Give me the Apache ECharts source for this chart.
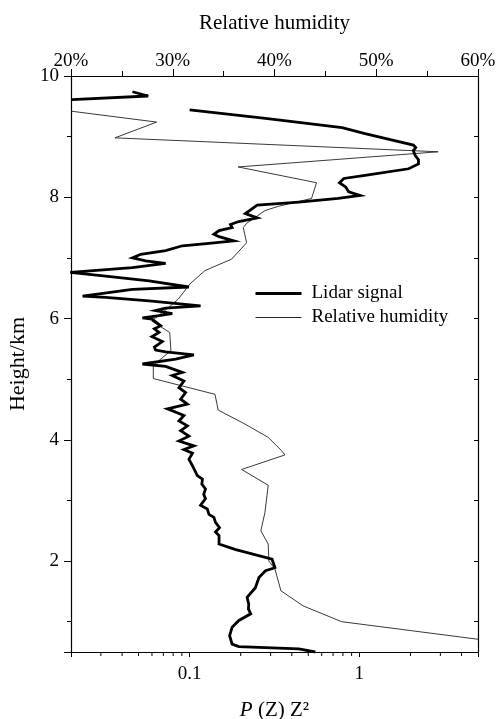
<!DOCTYPE html>
<html>
<head>
<meta charset="utf-8">
<script src="https://cdn.jsdelivr.net/npm/echarts@6/dist/echarts.min.js"></script>
<style>html,body{margin:0;padding:0;background:#fff}#c{width:503px;height:719px}</style>
</head>
<body>
<div id="c"></div>
<script>
// ---- Data ----
const lidarHeight = [9.74, 9.67, 9.61, 9.52, 9.44, 9.30, 9.15, 9.05, 8.86, 8.82, 8.77, 8.69, 8.62, 8.55, 8.47, 8.36, 8.31, 8.24, 8.17, 8.09, 8.03, 7.98, 7.92, 7.87, 7.73, 7.66, 7.60, 7.55, 7.50, 7.45, 7.39, 7.35, 7.28, 7.24, 7.20, 7.12, 7.06, 7.00, 6.95, 6.91, 6.84, 6.76, 6.70, 6.62, 6.52, 6.48, 6.37, 6.35, 6.29, 6.21, 6.17, 6.13, 6.08, 6.04, 6.01, 5.99, 5.88, 5.83, 5.77, 5.70, 5.62, 5.53, 5.48, 5.45, 5.40, 5.33, 5.25, 5.21, 5.11, 5.06, 4.97, 4.86, 4.78, 4.67, 4.59, 4.51, 4.40, 4.31, 4.23, 4.15, 4.06, 3.98, 3.90, 3.84, 3.78, 3.68, 3.57, 3.41, 3.35, 3.27, 3.19, 3.10, 3.03, 2.92, 2.86, 2.77, 2.72, 2.64, 2.55, 2.48, 2.42, 2.28, 2.19, 2.03, 1.89, 1.84, 1.73, 1.56, 1.40, 1.29, 1.21, 1.13, 1.02, 0.91, 0.77, 0.63, 0.59, 0.55, 0.50];
const lidarSignal = [0.046, 0.057, 0.0202, null, 0.100, 0.280, 0.791, 1.08, 2.08, 2.15, 2.08, 2.13, 2.23, 2.23, 1.95, 1.08, 0.81, 0.763, 0.83, 0.865, 1.01, 0.75, 0.44, 0.25, 0.213, 0.25, 0.195, 0.174, 0.178, 0.149, 0.139, 0.149, 0.182, 0.130, 0.0906, 0.0722, 0.0515, 0.046, 0.0551, 0.0722, 0.046, 0.0198, 0.032, 0.0577, 0.099, 0.046, 0.0234, 0.032, 0.0577, 0.116, 0.0722, 0.063, 0.079, 0.063, 0.0527, 0.060, 0.0675, 0.062, 0.066, 0.060, 0.069, 0.062, 0.063, 0.0722, 0.106, 0.0827, 0.0527, 0.0722, 0.0906, 0.079, 0.0926, 0.0865, 0.0947, 0.0885, 0.097, 0.074, 0.0926, 0.0865, 0.097, 0.0885, 0.099, 0.0865, 0.106, 0.0926, 0.104, 0.099, 0.104, 0.111, 0.119, 0.118, 0.124, 0.121, 0.124, 0.116, 0.127, 0.130, 0.139, 0.142, 0.150, 0.142, 0.149, 0.149, 0.187, 0.306, 0.318, 0.280, 0.256, 0.244, 0.218, 0.223, 0.222, 0.229, 0.195, 0.178, 0.172, 0.178, 0.195, 0.44, 0.55];
const rhHeight = [9.42, 9.24, 8.98, 8.75, 8.50, 8.24, 7.98, 7.85, 7.78, 7.57, 7.50, 7.25, 6.98, 6.79, 6.57, 6.32, 6.13, 5.96, 5.77, 5.47, 5.23, 5.01, 4.75, 4.49, 4.26, 4.04, 3.82, 3.75, 3.51, 3.25, 2.80, 2.50, 2.28, 2.00, 1.87, 1.51, 1.26, 1.00, 0.71];
const rhPercent = [20.0, 28.42, 24.32, 56.08, 36.43, 44.13, 43.64, 40.37, 39.06, 37.26, 36.93, 37.26, 35.79, 33.16, 31.69, 30.54, 29.23, 27.93, 29.7, 29.82, 28.09, 28.09, 34.15, 34.47, 37.09, 39.38, 40.70, 41.02, 36.77, 39.38, 39.06, 38.66, 39.38, 39.45, 40.04, 40.63, 42.82, 46.59, 60.0];
const seriesNames = ['Lidar signal', 'Relative humidity'];
const bottomTickLabels = ['0.1', '1'];
const logMinorTicks = [0.03, 0.04, 0.05, 0.06, 0.07, 0.08, 0.09, 0.2, 0.3, 0.4, 0.5, 0.6, 0.7, 0.8, 0.9, 2, 3, 4];

const FONT = 'Liberation Serif';
const chart = echarts.init(document.getElementById('c'), null, {renderer: 'canvas'});

const lidarData = lidarHeight.map((h, i) => [lidarSignal[i] == null ? '-' : lidarSignal[i], h]);
const rhData = rhHeight.map((h, i) => [rhPercent[i], h]);

const axisLineStyle = {color: '#000', width: 1.2};
const option = {
  animation: false,
  backgroundColor: '#fff',
  textStyle: {fontFamily: FONT, color: '#000'},
  grid: {left: 71, right: 25, top: 76, bottom: 67, containLabel: false, outerBoundsMode: 'none'},
  xAxis: [
    {
      type: 'log', logBase: 10, min: 0.02, max: 5, position: 'bottom',
      name: '{i|P} (Z) Z\u00B2', nameLocation: 'middle', nameGap: 48,
      nameTextStyle: {
        fontFamily: FONT, fontSize: 21, color: '#000',
        rich: {
          i: {fontFamily: FONT, fontStyle: 'italic', fontSize: 21, color: '#000'}
        }
      },
      axisLine: {show: true, lineStyle: axisLineStyle},
      axisTick: {show: true, inside: false, length: 5, lineStyle: {color: '#000', width: 1}},
      axisLabel: {
        margin: 13, fontSize: 19, fontFamily: FONT, color: '#000',
        formatter: function (v) {
          const l = Math.log10(v);
          if (Math.abs(l + 1) < 1e-6) return bottomTickLabels[0];
          if (Math.abs(l) < 1e-6) return bottomTickLabels[1];
          return '';
        }
      },
      splitLine: {show: false}
    },
    {
      type: 'value', min: 20, max: 60, interval: 10, position: 'top',
      name: 'Relative humidity', nameLocation: 'middle', nameGap: 42,
      nameTextStyle: {fontFamily: FONT, fontSize: 21, color: '#000'},
      axisLine: {show: true, lineStyle: axisLineStyle},
      axisTick: {show: true, inside: false, length: 7, lineStyle: {color: '#000', width: 1}},
      minorTick: {show: true, splitNumber: 2, length: 5, lineStyle: {color: '#000', width: 1}},
      axisLabel: {margin: 5, fontSize: 19, fontFamily: FONT, color: '#000', formatter: '{value}%'},
      splitLine: {show: false}
    }
  ],
  yAxis: [
    {
      type: 'value', min: 0.5, max: 10, position: 'left',
      name: 'Height/km', nameLocation: 'middle', nameGap: 41, nameRotate: 90,
      nameTextStyle: {fontFamily: FONT, fontSize: 22, color: '#000'},
      axisLine: {show: true, lineStyle: axisLineStyle},
      axisTick: {show: true, inside: false, length: 7, lineStyle: {color: '#000', width: 1}},
      minorTick: {show: true, splitNumber: 2, length: 4, lineStyle: {color: '#000', width: 1}},
      axisLabel: {margin: 12, fontSize: 19, fontFamily: FONT, color: '#000',
        formatter: function (v) { return v === 0.5 ? '' : String(v); }},
      splitLine: {show: false}
    },
    {
      type: 'value', min: 0.5, max: 10, position: 'right', splitNumber: 10,
      axisLine: {show: true, lineStyle: axisLineStyle},
      axisTick: {show: true, inside: true, length: 4, lineStyle: {color: '#000', width: 1}},
      axisLabel: {show: false},
      splitLine: {show: false}
    }
  ],
  legend: {
    orient: 'vertical', left: 249, top: 279, itemWidth: 46, itemHeight: 14, itemGap: 5,
    textStyle: {fontFamily: FONT, fontSize: 19, color: '#000', padding: [0, 0, 0, 5]},
    data: [
      {name: seriesNames[0], lineStyle: {width: 3, color: '#000'}, itemStyle: {opacity: 0}},
      {name: seriesNames[1], lineStyle: {width: 1, color: '#222'}, itemStyle: {opacity: 0}}
    ]
  },
  series: [
    {
      name: seriesNames[0], type: 'line', xAxisIndex: 0, yAxisIndex: 0,
      data: lidarData, symbol: 'none', connectNulls: false, clip: true,
      itemStyle: {color: '#000'},
      lineStyle: {color: '#000', width: 2.8, join: 'miter', miterLimit: 6}, z: 3
    },
    {
      name: seriesNames[1], type: 'line', xAxisIndex: 1, yAxisIndex: 0,
      data: rhData, symbol: 'none', clip: true,
      itemStyle: {color: '#222'},
      lineStyle: {color: '#222', width: 0.9}, z: 2
    },
    {
      type: 'custom', coordinateSystem: 'cartesian2d', xAxisIndex: 0, yAxisIndex: 0,
      silent: true, clip: false,
      data: logMinorTicks.map(v => [v, 0.5]),
      renderItem: function (params, api) {
        const p = api.coord([api.value(0), api.value(1)]);
        return {type: 'line', shape: {x1: p[0], y1: p[1], x2: p[0], y2: p[1] + 4},
          style: {stroke: '#000', lineWidth: 1}};
      }
    }
  ]
};
chart.setOption(option);
</script>
</body>
</html>
